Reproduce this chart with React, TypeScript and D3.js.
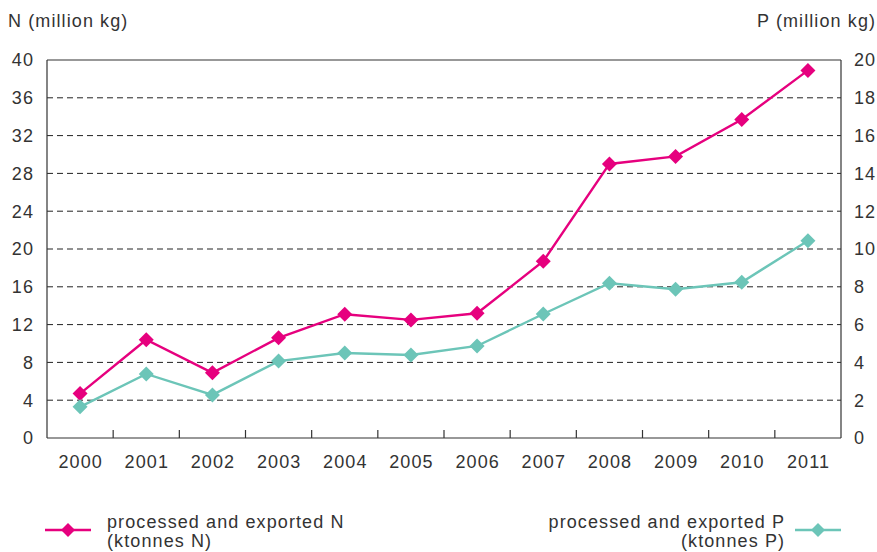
import React from "react";
import * as d3 from "d3";

const years = ["2000","2001","2002","2003","2004","2005","2006","2007","2008","2009","2010","2011"];
const nValues = [4.7, 10.4, 6.9, 10.6, 13.1, 12.5, 13.2, 18.7, 29.0, 29.8, 33.7, 38.9];
const pValues = [1.65, 3.39, 2.28, 4.07, 4.5, 4.39, 4.87, 6.56, 8.19, 7.87, 8.24, 10.44];
const leftTicks = [0, 4, 8, 12, 16, 20, 24, 28, 32, 36, 40];
const rightTicks = [0, 2, 4, 6, 8, 10, 12, 14, 16, 18, 20];

const W = 877, H = 552;
const L = 47, R = 841, T = 60, B = 438;
const N_COLOR = "#e6007e";
const P_COLOR = "#6cc5b8";
const TXT = "#333";
const FONT = "'Liberation Sans', Arial, Helvetica, sans-serif";
const FS = 18;
const LS = 1.1;

export default function App() {
  const x = d3.scaleBand<string>().domain(years).range([L, R]);
  const yL = d3.scaleLinear().domain([0, 40]).range([B, T]);
  const yR = d3.scaleLinear().domain([0, 20]).range([B, T]);
  const cx = (yr: string) => (x(yr) as number) + x.bandwidth() / 2;
  const lineN = d3.line<number>().x((_, i) => cx(years[i])).y((d) => yL(d));
  const lineP = d3.line<number>().x((_, i) => cx(years[i])).y((d) => yR(d));
  const diamond = (px: number, py: number, s = 7.5) =>
    `M${px},${py - s}L${px + s},${py}L${px},${py + s}L${px - s},${py}Z`;

  const t = { fontSize: FS, fill: TXT, letterSpacing: LS } as any;

  return (
    <svg width={W} height={H} style={{ position: "absolute", left: 0, top: 0, background: "#fff" }} fontFamily={FONT}>
      <rect width={W} height={H} fill="#fff" />
      {/* grid */}
      {leftTicks.filter((v) => v > 0 && v < 40).map((v) => (
        <line key={v} x1={L} x2={R} y1={yL(v)} y2={yL(v)} stroke="#222" strokeWidth={1} strokeDasharray="6,4" />
      ))}
      {/* frame */}
      <line x1={L} x2={R} y1={T} y2={T} stroke="#333" strokeWidth={1.2} />
      <line x1={R} x2={R} y1={T} y2={B} stroke="#333" strokeWidth={1.2} />
      <line x1={L} x2={L} y1={T} y2={B} stroke="#333" strokeWidth={1.2} />
      <line x1={L} x2={R} y1={B} y2={B} stroke="#333" strokeWidth={1.2} />
      {/* x ticks */}
      {years.slice(1).map((yr) => (
        <line key={yr} x1={x(yr)} x2={x(yr)} y1={B} y2={B - 8} stroke="#333" strokeWidth={1.2} />
      ))}
      {/* axis labels */}
      {leftTicks.map((v) => (
        <text key={v} x={33 + LS} y={yL(v)} dy="0.35em" textAnchor="end" {...t}>{v}</text>
      ))}
      {rightTicks.map((v) => (
        <text key={v} x={854} y={yR(v)} dy="0.35em" textAnchor="start" {...t}>{v}</text>
      ))}
      {years.map((yr) => (
        <text key={yr} x={cx(yr) + LS / 2} y={468} textAnchor="middle" {...t}>{yr}</text>
      ))}
      <text x={8} y={27} {...t}>N (million kg)</text>
      <text x={875 + LS} y={27} textAnchor="end" {...t}>P (million kg)</text>
      {/* series */}
      <path d={lineN(nValues) || ""} fill="none" stroke={N_COLOR} strokeWidth={2.4} />
      <path d={lineP(pValues) || ""} fill="none" stroke={P_COLOR} strokeWidth={2.4} />
      {nValues.map((v, i) => (
        <path key={"n" + i} d={diamond(cx(years[i]), yL(v))} fill={N_COLOR} />
      ))}
      {pValues.map((v, i) => (
        <path key={"p" + i} d={diamond(cx(years[i]), yR(v))} fill={P_COLOR} />
      ))}
      {/* legend */}
      <line x1={45} x2={91} y1={530} y2={530} stroke={N_COLOR} strokeWidth={2.4} />
      <path d={diamond(68, 530, 7)} fill={N_COLOR} />
      <text x={107} y={528} {...t}>processed and exported N</text>
      <text x={107} y={547} {...t}>(ktonnes N)</text>
      <line x1={795} x2={841} y1={530} y2={530} stroke={P_COLOR} strokeWidth={2.4} />
      <path d={diamond(818, 530, 7)} fill={P_COLOR} />
      <text x={784 + LS} y={528} textAnchor="end" {...t}>processed and exported P</text>
      <text x={784 + LS} y={547} textAnchor="end" {...t}>(ktonnes P)</text>
    </svg>
  );
}
